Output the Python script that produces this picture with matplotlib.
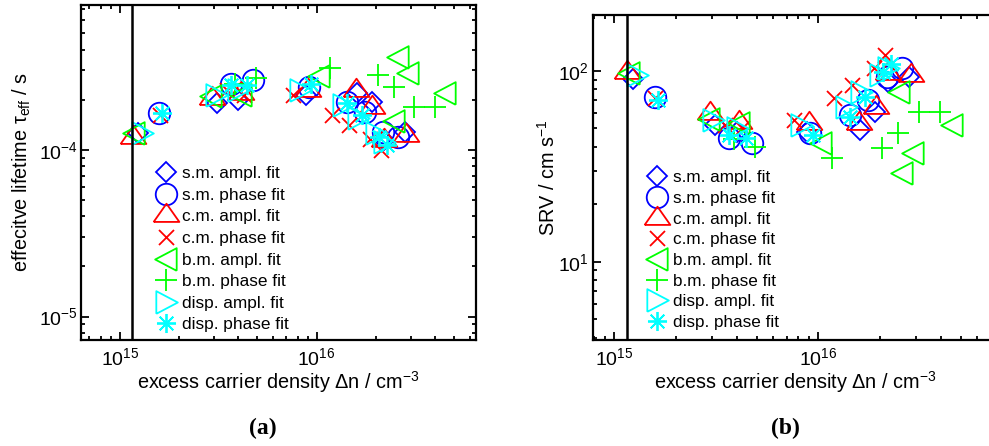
import numpy as np
import matplotlib
matplotlib.use("Agg")
import matplotlib.pyplot as plt
from matplotlib.ticker import NullFormatter

plt.rcParams['font.family'] = ['Liberation Sans', 'DejaVu Sans']
plt.rcParams['mathtext.fontset'] = 'custom'
plt.rcParams['mathtext.rm'] = 'Liberation Sans'
plt.rcParams['mathtext.it'] = 'Liberation Sans:italic'
plt.rcParams['mathtext.bf'] = 'Liberation Sans:bold'

# excess carrier density per fit method (cm^-3)
dn_sm_ampl = [1.23e15, 3.1e15, 4.0e15, 8.8e15, 1.6e16, 1.9e16, 2.2e16, 2.8e16]
dn_sm_phase = [1.58e15, 3.65e15, 4.75e15, 9.1e15, 1.43e16, 1.76e16, 2.17e16, 2.58e16]
dn_cm_ampl = [1.16e15, 2.95e15, 4.1e15, 9.0e15, 1.58e16, 1.92e16, 2.2e16, 2.85e16]
dn_cm_phase = [1.59e15, 3.5e15, 4.25e15, 7.6e15, 1.19e16, 1.46e16, 1.87e16, 2.13e16]
dn_bm_ampl = [1.18e15, 2.9e15, 4.1e15, 1.03e16, 2.48e16, 2.58e16, 2.92e16, 4.5e16]
dn_bm_phase = [3.85e15, 4.9e15, 1.17e16, 2.06e16, 2.46e16, 3.12e16, 3.97e16]
dn_disp_ampl = [1.29e15, 3.06e15, 4.0e15, 8.25e15, 1.36e16, 1.62e16, 2.01e16, 2.2e16]
dn_disp_phase = [1.63e15, 3.66e15, 4.4e15, 9.4e15, 1.43e16, 1.69e16, 2.08e16, 2.28e16]

# (a) effective lifetime (s)
tau_sm_ampl = [1.26e-4, 1.9e-4, 2.0e-4, 2.14e-4, 2.2e-4, 1.95e-4, 1.15e-4, 1.29e-4]
tau_sm_phase = [1.66e-4, 2.5e-4, 2.63e-4, 2.4e-4, 1.95e-4, 1.7e-4, 1.29e-4, 1.2e-4]
tau_cm_ampl = [1.2e-4, 2.04e-4, 2.2e-4, 2.3e-4, 2.29e-4, 1.82e-4, 1.15e-4, 1.23e-4]
tau_cm_phase = [1.62e-4, 2.3e-4, 2.15e-4, 2.14e-4, 1.62e-4, 1.41e-4, 1.17e-4, 1.0e-4]
tau_bm_ampl = [1.26e-4, 2.1e-4, 2.15e-4, 2.76e-4, 1.5e-4, 3.6e-4, 2.88e-4, 2.19e-4]
tau_bm_phase = [2.5e-4, 2.69e-4, 3.09e-4, 2.82e-4, 2.4e-4, 1.82e-4, 1.82e-4]
tau_disp_ampl = [1.26e-4, 2.14e-4, 2.3e-4, 2.3e-4, 1.86e-4, 1.55e-4, 1.26e-4, 1.12e-4]
tau_disp_phase = [1.67e-4, 2.45e-4, 2.45e-4, 2.5e-4, 1.9e-4, 1.62e-4, 1.2e-4, 1.07e-4]

# (b) surface recombination velocity (cm/s)
srv_sm_ampl = [91, 52, 48, 48, 49, 61, 87.6, 93]
srv_sm_phase = [73, 44.3, 41.7, 47, 58.6, 70, 93, 103]
srv_cm_ampl = [99, 60, 54, 53, 53, 64.8, 97, 95]
srv_cm_phase = [72, 52, 50, 55, 71.7, 84, 103, 121]
srv_bm_ampl = [97, 56, 53, 41.7, 77, 29, 37, 52]
srv_bm_phase = [44, 40, 34.8, 39.2, 47, 61, 61]
srv_disp_ampl = [95, 55, 50, 52, 64.8, 77, 95, 103]
srv_disp_phase = [70, 46, 44.3, 46, 57.5, 73, 98.8, 109]

labels = ["s.m. ampl. fit", "s.m. phase fit", "c.m. ampl. fit", "c.m. phase fit",
          "b.m. ampl. fit", "b.m. phase fit", "disp. ampl. fit", "disp. phase fit"]
dn_all = [dn_sm_ampl, dn_sm_phase, dn_cm_ampl, dn_cm_phase,
          dn_bm_ampl, dn_bm_phase, dn_disp_ampl, dn_disp_phase]
tau_all = [tau_sm_ampl, tau_sm_phase, tau_cm_ampl, tau_cm_phase,
           tau_bm_ampl, tau_bm_phase, tau_disp_ampl, tau_disp_phase]
srv_all = [srv_sm_ampl, srv_sm_phase, srv_cm_ampl, srv_cm_phase,
           srv_bm_ampl, srv_bm_phase, srv_disp_ampl, srv_disp_phase]
dn_line = 1.15e15

# IDL-like symbols
tri_up = [(-1, -0.5), (1, -0.5), (0, 0.92), (-1, -0.5)]
tri_left = [(0.9, -1), (0.9, 1), (-1, 0), (0.9, -1)]
tri_right = [(-0.9, -1), (-0.9, 1), (1, 0), (-0.9, -1)]
styles = [
    dict(marker="D", color="#0000ff", ms=10.5),
    dict(marker="o", color="#0000ff", ms=15.5),
    dict(marker=tri_up, color="#ff0000", ms=18.5),
    dict(marker="x", color="#ff0000", ms=10.8),
    dict(marker=tri_left, color="#00ff00", ms=16.3),
    dict(marker="+", color="#00ff00", ms=15.6),
    dict(marker=tri_right, color="#00ffff", ms=16.3),
    dict(marker=(8, 2, 0), color="#00ffff", ms=13.7),
]

fig = plt.figure(figsize=(9.89, 4.46), dpi=100)
ax_a = fig.add_axes([0.0819, 0.2377, 0.3994, 0.7511])
ax_b = fig.add_axes([0.5993, 0.2377, 0.4088, 0.7287])


def draw_panel(ax, yvals):
    for x, y, lab, st in zip(dn_all, yvals, labels, styles):
        ax.plot(x, y, ls="none", marker=st["marker"], ms=st["ms"], mfc="none",
                mec=st["color"], mew=1.3, label=lab)
    ax.axvline(dn_line, color="black", lw=1.8)
    ax.set_xscale("log")
    ax.set_yscale("log")
    ax.tick_params(which="both", direction="in", top=True, right=True,
                   labelsize=14, width=1.3)
    ax.tick_params(axis="x", pad=5)
    ax.tick_params(axis="y", pad=2.5)
    ax.tick_params(which="major", length=6)
    ax.tick_params(which="minor", length=3)
    ax.xaxis.set_minor_formatter(NullFormatter())
    ax.yaxis.set_minor_formatter(NullFormatter())
    for sp in ax.spines.values():
        sp.set_linewidth(1.6)
    ax.set_xlabel(r"excess carrier density Δn / cm$^{-3}$", fontsize=14.3, labelpad=0.5)


draw_panel(ax_a, tau_all)
ax_a.set_xlim(6.34e14, 6.45e16)
ax_a.set_ylim(7.24e-6, 7.41e-4)
ax_a.set_ylabel(r"effecitve lifetime τ$_{\rm eff}$ / s", fontsize=14.3, labelpad=4)
ax_a.legend(loc="upper left", bbox_to_anchor=(0.193, 0.519), frameon=False,
            fontsize=12.4, handlelength=1.0, handletextpad=0.45,
            labelspacing=0.38, borderpad=0, borderaxespad=0)

draw_panel(ax_b, srv_all)
ax_b.set_xlim(7.84e14, 7.52e16)
ax_b.set_ylim(3.89, 196)
ax_b.set_ylabel(r"SRV / cm s$^{-1}$", fontsize=14.3, labelpad=0)
ax_b.legend(loc="upper left", bbox_to_anchor=(0.1385, 0.522), frameon=False,
            fontsize=12.3, handlelength=1.0, handletextpad=0.45,
            labelspacing=0.33, borderpad=0, borderaxespad=0)

fig.text(263 / 989, 1 - 428 / 446, "(a)", family="Liberation Serif",
         weight="bold", fontsize=17, ha="center", va="center")
fig.text(785 / 989, 1 - 428 / 446, "(b)", family="Liberation Serif",
         weight="bold", fontsize=17, ha="center", va="center")

fig.savefig("out.png", dpi=100)
